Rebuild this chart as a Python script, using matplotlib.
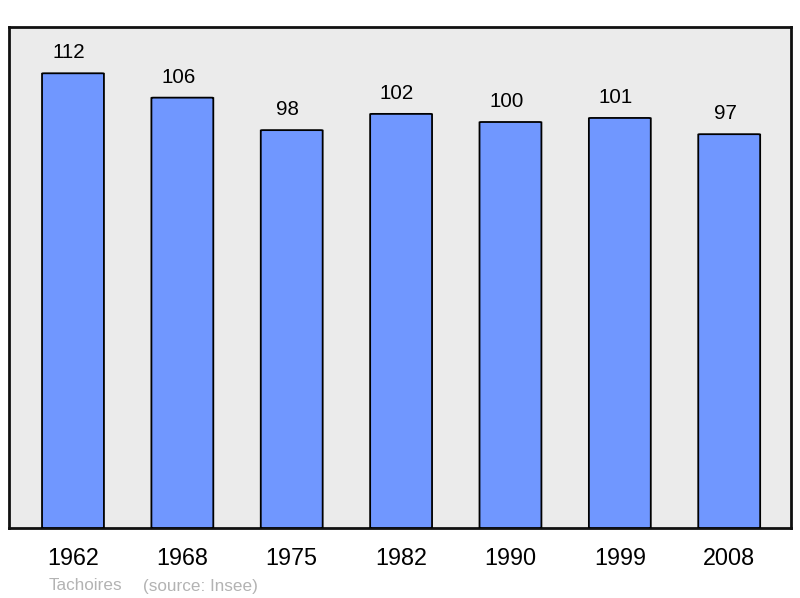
import matplotlib
matplotlib.use("Agg")
import matplotlib.pyplot as plt
from matplotlib.patches import FancyBboxPatch

years = ["1962", "1968", "1975", "1982", "1990", "1999", "2008"]
population = [112, 106, 98, 102, 100, 101, 97]

plt.rcParams['font.family'] = ['Liberation Sans', 'DejaVu Sans']

fig = plt.figure(figsize=(8, 5.98), dpi=100)
ax = fig.add_axes([9/800, 70/598, 782/800, 501/598])
ax.set_facecolor('#ebebeb')

x = list(range(len(years)))
for xi, v in zip(x, population):
    ax.add_patch(FancyBboxPatch((xi - 0.283, 0), 0.566, v,
                                boxstyle="round,pad=0,rounding_size=0.02",
                                mutation_aspect=4,
                                facecolor='#7097ff', edgecolor='black', linewidth=1.3, zorder=3))
    ax.annotate(str(v), (xi, v), xytext=(-3, 8), textcoords='offset points',
                ha='center', va='bottom', fontsize=14.8, color='black')

ax.set_xlim(-0.585, 6.565)
ax.set_ylim(0, 123.4)
ax.set_yticks([])
ax.set_xticks(x)
ax.set_xticklabels(years, fontsize=16.8)
ax.tick_params(axis='x', length=0, pad=13.5)
for s in ax.spines.values():
    s.set_linewidth(2)
    s.set_color('#111111')

fig.text(49/800, 1 - 586/598, "Tachoires", fontsize=12.3, color='#b3b3b3', va='center', ha='left')
fig.text(143/800, 1 - 586/598, "(source: Insee)", fontsize=12.3, color='#b3b3b3', va='center', ha='left')

fig.savefig("out.png", dpi=100)
